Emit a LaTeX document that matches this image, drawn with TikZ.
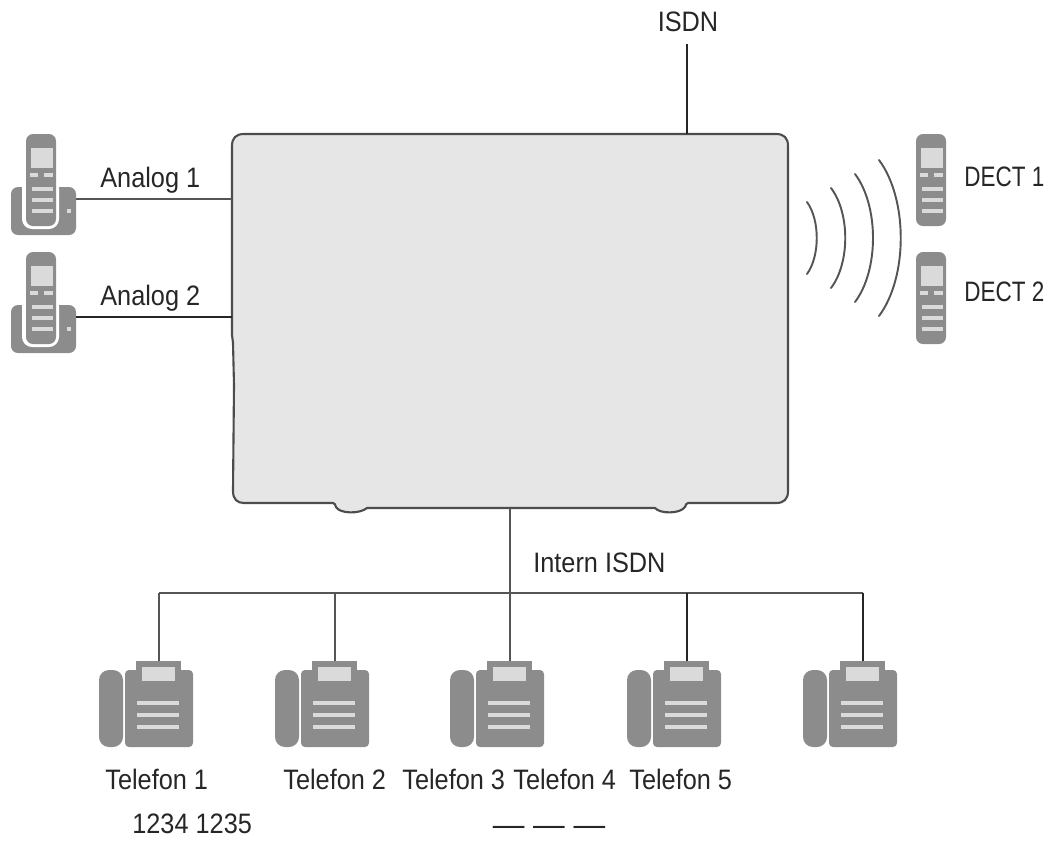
\documentclass[tikz,border=0pt]{standalone}
\usepackage{fontspec}
\setmainfont[FakeStretch=0.9]{Liberation Sans}
\newfontfamily\dectfont[FakeStretch=0.8]{Liberation Sans}
\newfontfamily\dashfont{Liberation Sans}
\usepackage{tikz}
\usetikzlibrary{calc}
\definecolor{fongray}{HTML}{8C8C8C}
\definecolor{fonlight}{HTML}{DADADA}
\definecolor{hubfill}{HTML}{E6E6E6}
\definecolor{wiregray}{HTML}{555555}
\tikzset{label/.style={font=\fontsize{16}{18}\selectfont,inner sep=0pt,text=black!85}}
\tikzset{wire/.style={draw=wiregray,line width=1.1pt}}
\tikzset{wirethick/.style={draw=black!85,line width=1.5pt}}
\tikzset{fonpart/.style={fill=fongray,rounded corners=0.08cm}}
\tikzset{fonpill/.style={fill=fongray,rounded corners=0.2cm}}
\tikzset{fonbar/.style={fill=fonlight}}
% handset drawn around the top left of its screen
\tikzset{handset/.pic={
	\fill[fonpart,rounded corners=0.14cm] (-5,-14) rectangle (25,78);
	\fill[fonbar] (0,0) rectangle (22,20);
	\fill[fonbar] (-1,25) rectangle (7,29);
	\fill[fonbar] (13,25) rectangle (22,29);
	\foreach \y in {39,50,61} {
		\fill[fonbar] (1,\y) rectangle (22,\y+4);
	}
}}
\tikzset{cradle/.pic={
	\fill[fonpart,rounded corners=0.14cm] (-20,39) rectangle (45,87);
	\fill[white,rounded corners=0.2cm] (-9,30) rectangle (28,81);
	\pic {handset};
	\fill[fonbar] (36,61) rectangle (40,65);
	\coordinate (-plug) at (45,51);
}}
% desk phone, origin where the wire arrives
\tikzset{deskfon/.pic={
	\fill[fonpill] (-60,9) rectangle (-36,86);
	\fill[fonpart] (-34,9) rectangle (34,86);
	\fill[fongray] (-23,0) rectangle (22,12);
	\fill[fonbar] (-17,6) rectangle (16,20);
	\foreach \y in {40,52,64} {
		\fill[fonbar] (-22,\y) rectangle (20,\y+4);
	}
	\coordinate (-top) at (0,0);
}}

\begin{document}
\begin{tikzpicture}[x=0.02cm,y=-0.02cm]
\useasboundingbox (0,0) rectangle (1054,840);

\fill[hubfill,draw=black!70,line width=1.2pt] (244,134) -- (776,134)
	.. controls (784,134) and (788,138) .. (788,146) -- (788,491)
	.. controls (788,499) and (784,503) .. (776,503) -- (688,503)
	.. controls (686,503) and (686,505) .. (685,507)
	.. controls (680,514) and (660,514) .. (655,508) -- (367,508)
	.. controls (360,514) and (340,514) .. (336,507)
	.. controls (335,505) and (335,503) .. (333,503) -- (244,503)
	.. controls (237,503) and (233,499) .. (233,491) -- (234,385) -- (233,343) -- (232,335) -- (232,146)
	.. controls (232,138) and (236,134) .. (244,134) -- cycle;
\node (hub) at (510,321) [minimum width=11.12cm,minimum height=7.48cm,inner sep=0pt] {};

\node (isdn) at (688,31) [label,anchor=base] {ISDN};
\coordinate (isdnend) at (687,44);
\draw[wirethick] (isdnend) -- (isdnend |- hub.north);

\pic (A1) at (31,148) {cradle};
\pic (A2) at (31,266) {cradle};
\node (analog1) at (100,187) [label,anchor=base west] {Analog 1};
\node (analog2) at (100,305) [label,anchor=base west] {Analog 2};
\draw[wire] (A1-plug) -- (A1-plug -| hub.west);
\draw[wirethick] (A2-plug) -- (A2-plug -| hub.west);

\pic (D1) at (921,148) {handset};
\pic (D2) at (921,266) {handset};
\node (dect1) at (964,186) [label,anchor=base west,font=\fontsize{16}{18}\dectfont] {DECT 1};
\node (dect2) at (964,301) [label,anchor=base west,font=\fontsize{16}{18}\dectfont] {DECT 2};

\foreach \x / \h / \d in {807/36/13,831/50/19,855/64/24,879/78/29} {
	\draw[wire,line cap=round] (\x,238-\h) .. controls (\x+\d,238-\h/2) and (\x+\d,238+\h/2) .. (\x,238+\h);
}

\coordinate (bus) at (510,593);
\foreach \i / \x in {1/159,2/335,3/510,4/687,5/863} {
	\pic (T\i) at (\x,661) {deskfon};
}
\draw[wire] (hub.south) -- (bus);
\draw[wire] (T1-top |- bus) -- (T5-top |- bus);
\foreach \i in {1,2,3} {
	\draw[wire] (T\i-top |- bus) -- (T\i-top);
}
\foreach \i in {4,5} {
	\draw[wirethick] (T\i-top |- bus) -- (T\i-top);
}
\node (intern) at (533,572) [label,anchor=base west] {Intern ISDN};

\foreach \i / \x in {1/105,2/283,3/402,4/513,5/629} {
	\node (tel\i) at (\x,789) [label,anchor=base west] {Telefon \i};
}
\node (nums) at (132,833) [label,anchor=base west] {1234 1235};
\node (dashes) at (549,835) [label,anchor=base,font=\fontsize{18}{20}\dashfont] {\textemdash{} \textemdash{} \textemdash};

\end{tikzpicture}
\end{document}
